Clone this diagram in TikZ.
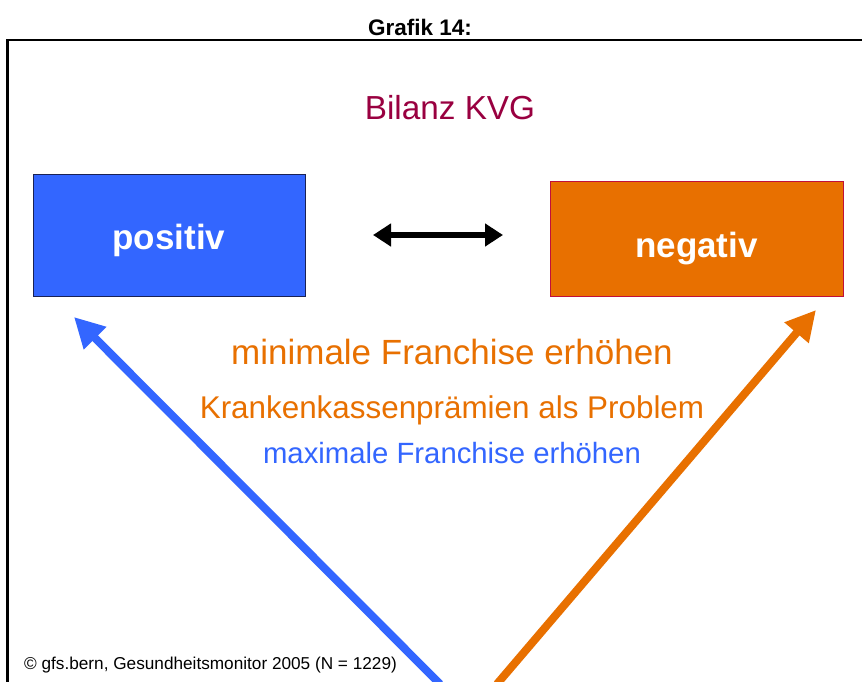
\documentclass[tikz,border=0pt]{standalone}
\usepackage{fontspec}
\setmainfont{Liberation Sans}
\usetikzlibrary{arrows.meta}
\definecolor{kblue}{HTML}{3366FF}
\definecolor{korange}{HTML}{E87000}
\definecolor{kmag}{HTML}{990040}
\definecolor{kred}{HTML}{C0103A}
\definecolor{knavy}{HTML}{1A2255}
\begin{document}
\begin{tikzpicture}[x=1pt,y=-1pt,
  box/.style={minimum width=#1, inner sep=0pt},
  boxlabel/.style={inner sep=0pt, anchor=base, font=\fontsize{35}{40}\selectfont\bfseries, text=white},
  bigarrow/.style={line width=8pt, -{Triangle[length=30pt,width=30pt]}},
  txt/.style={inner sep=0pt}]
\useasboundingbox (0,0) rectangle (862,682);
\fill[white] (0,0) rectangle (862,682);
% frame
\draw[line width=2.5pt] (862,40) -- (7.5,40) -- (7.5,682);
\node[txt, font=\fontsize{22.5}{26}\selectfont\bfseries] (title) at (420,27) {Grafik 14:};
\node[txt, text=kmag, font=\fontsize{33.3}{38}\selectfont] (bilanz) at (450,108) {Bilanz KVG};
% boxes
\node[box=272pt, minimum height=122pt, fill=kblue, draw=knavy, line width=0.8pt] (pos) at (169,235) {};
\node[box=293pt, minimum height=115pt, fill=korange, draw=kred, line width=0.8pt] (neg) at (696.5,238.5) {};
\node[boxlabel] (posl) at (169,249) {positiv};
\node[boxlabel] (negl) at (696.5,257) {negativ};
% double arrow
\coordinate (dl) at (373,235);
\coordinate (dr) at (503,235);
\draw[line width=6pt, {Triangle[length=18pt,width=22pt]}-{Triangle[length=18pt,width=22pt]}] (dl) -- (dr);
% texts
\node[txt, text=korange, font=\fontsize{35}{40}\selectfont] (t1) at (452,352) {minimale Franchise erhöhen};
\node[txt, text=korange, font=\fontsize{31.4}{36}\selectfont] (t2) at (452,410) {Krankenkassenprämien als Problem};
\node[txt, text=kblue, font=\fontsize{29.3}{34}\selectfont] (t3) at (452,453) {maximale Franchise erhöhen};
% big arrows
\coordinate (bs) at (440,684);
\coordinate (bt) at (74,317);
\coordinate (os) at (497,684);
\coordinate (ot) at (816,310);
\draw[bigarrow, kblue] (bs) -- (bt);
\draw[bigarrow, korange] (os) -- (ot);
% footer
\node[txt, anchor=west, font=\fontsize{17.2}{20}\selectfont] (foot) at (24,665) {© gfs.bern, Gesundheitsmonitor 2005 (N = 1229)};
\end{tikzpicture}
\end{document}
